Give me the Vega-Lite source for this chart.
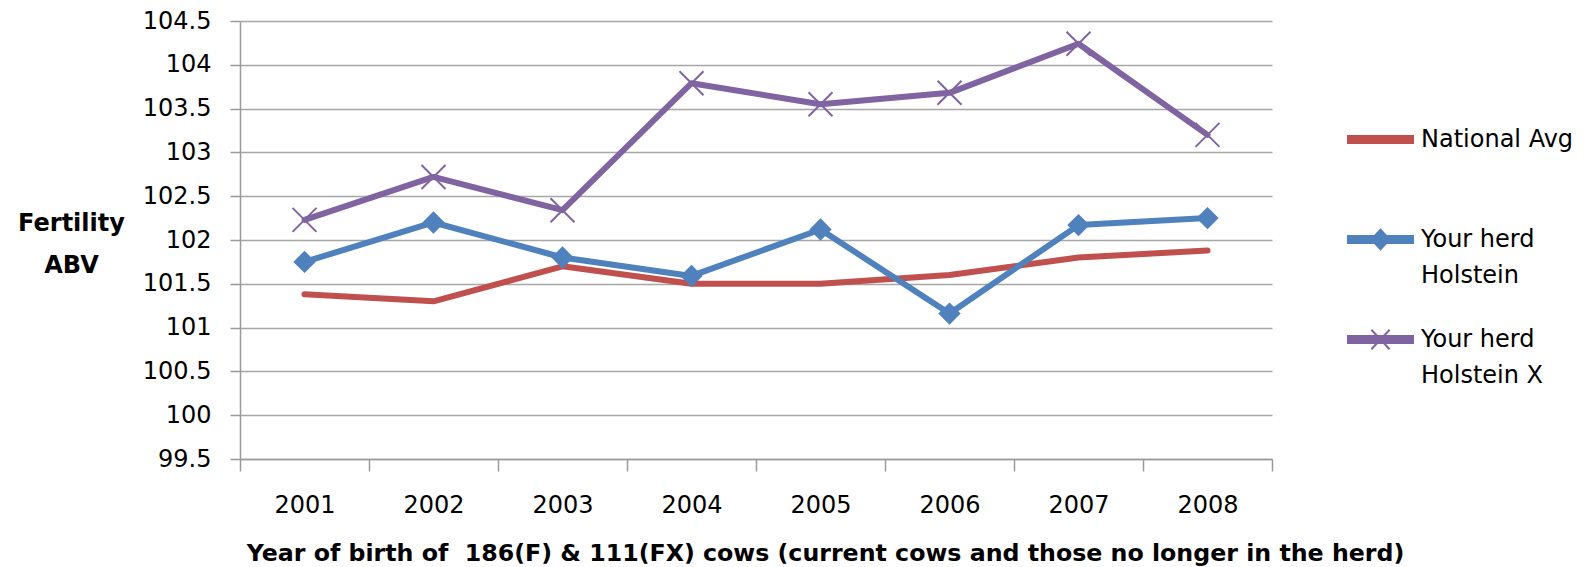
{
  "$schema": "https://vega.github.io/schema/vega-lite/v6.json",
  "width": 1032,
  "height": 438,
  "autosize": {"type": "none"},
  "padding": {"left": 240, "top": 21, "right": 321, "bottom": 108},
  "background": "white",
  "config": {
    "font": "DejaVu Sans",
    "view": {"stroke": null}
  },
  "data": {
    "values": [
      {"year": "2001", "series": "National Avg", "value": 101.38},
      {"year": "2002", "series": "National Avg", "value": 101.3},
      {"year": "2003", "series": "National Avg", "value": 101.7},
      {"year": "2004", "series": "National Avg", "value": 101.5},
      {"year": "2005", "series": "National Avg", "value": 101.5},
      {"year": "2006", "series": "National Avg", "value": 101.6},
      {"year": "2007", "series": "National Avg", "value": 101.8},
      {"year": "2008", "series": "National Avg", "value": 101.88},
      {"year": "2001", "series": "Your herd Holstein", "value": 101.75},
      {"year": "2002", "series": "Your herd Holstein", "value": 102.2},
      {"year": "2003", "series": "Your herd Holstein", "value": 101.8},
      {"year": "2004", "series": "Your herd Holstein", "value": 101.59},
      {"year": "2005", "series": "Your herd Holstein", "value": 102.12},
      {"year": "2006", "series": "Your herd Holstein", "value": 101.16},
      {"year": "2007", "series": "Your herd Holstein", "value": 102.17},
      {"year": "2008", "series": "Your herd Holstein", "value": 102.25},
      {"year": "2001", "series": "Your herd Holstein X", "value": 102.23},
      {"year": "2002", "series": "Your herd Holstein X", "value": 102.72},
      {"year": "2003", "series": "Your herd Holstein X", "value": 102.34},
      {"year": "2004", "series": "Your herd Holstein X", "value": 103.79},
      {"year": "2005", "series": "Your herd Holstein X", "value": 103.55},
      {"year": "2006", "series": "Your herd Holstein X", "value": 103.68},
      {"year": "2007", "series": "Your herd Holstein X", "value": 104.24},
      {"year": "2008", "series": "Your herd Holstein X", "value": 103.2}
    ]
  },
  "encoding": {
    "x": {
      "field": "year",
      "type": "ordinal",
      "scale": {"type": "band", "paddingInner": 0, "paddingOuter": 0},
      "axis": {
        "title": "Year of birth of \u00a0186(F) & 111(FX) cows (current cows and those no longer in the herd)",
        "titleFont": "DejaVu Sans",
        "titleFontWeight": "bold",
        "titleFontSize": 23.7,
        "titleColor": "#000000",
        "titleAlign": "center",
        "titleBaseline": "alphabetic",
        "titleX": 585,
        "titleY": 101,
        "labelAngle": 0,
        "labelFontSize": 24,
        "labelColor": "#000000",
        "labelPadding": 22,
        "tickBand": "extent",
        "tickSize": 12,
        "tickColor": "#9a9a9a",
        "tickWidth": 1.5,
        "domainColor": "#9a9a9a",
        "domainWidth": 1.5,
        "grid": false
      }
    },
    "y": {
      "field": "value",
      "type": "quantitative",
      "scale": {"domain": [99.5, 104.5], "zero": false, "nice": false},
      "axis": {
        "values": [99.5, 100, 100.5, 101, 101.5, 102, 102.5, 103, 103.5, 104, 104.5],
        "format": ".1~f",
        "title": ["Fertility", "ABV"],
        "titleFont": "DejaVu Sans",
        "titleFontWeight": "bold",
        "titleFontSize": 24,
        "titleColor": "#000000",
        "titleAngle": 0,
        "titleAlign": "center",
        "titleBaseline": "middle",
        "titleLineHeight": 42,
        "titleX": -169,
        "titleY": 202,
        "labelFontSize": 24,
        "labelColor": "#000000",
        "labelPadding": 19,
        "tickSize": 10,
        "tickColor": "#9a9a9a",
        "tickWidth": 1.5,
        "domainColor": "#9a9a9a",
        "domainWidth": 1.5,
        "grid": true,
        "gridColor": "#a6a6a6",
        "gridWidth": 1.5
      }
    }
  },
  "layer": [
    {
      "mark": {"type": "line", "strokeWidth": 6, "strokeJoin": "round", "strokeCap": "round"},
      "encoding": {
        "color": {
          "field": "series",
          "type": "nominal",
          "scale": {
            "domain": ["National Avg", "Your herd Holstein", "Your herd Holstein X"],
            "range": ["#C0504D", "#4F81BD", "#8064A2"]
          },
          "legend": {
            "title": null,
            "orient": "none",
            "legendX": 1107,
            "legendY": 85,
            "padding": 0,
            "symbolSize": 4225,
            "symbolType": "stroke",
            "labelFontSize": 24,
            "labelColor": "#000000",
            "labelOffset": 7,
            "labelLimit": 300,
            "rowPadding": 18,
            "labelExpr": "datum.label == 'National Avg' ? ['National Avg', ''] : datum.label == 'Your herd Holstein' ? ['Your herd', 'Holstein'] : ['Your herd', 'Holstein X']",
            "encode": {
              "labels": {
                "update": {
                  "lineHeight": {"value": 36}
                }
              },
              "symbols": {
                "update": {
                  "shape": {"signal": "datum.value == 'National Avg' ? 'M-1,-0.11H1V0.11H-1Z' : datum.value == 'Your herd Holstein' ? 'M-1,-0.11H1V0.11H-1ZM0,-0.3L0.28,0L0,0.3L-0.28,0Z' : 'M-1,-0.11H1V0.11H-1ZM-0.28,-0.3L0.28,0.3M-0.28,0.3L0.28,-0.3'"},
                  "fill": {"signal": "scale('color', datum.value)"},
                  "fillOpacity": {"value": 1},
                  "strokeWidth": {"value": 2}
                }
              }
            }
          }
        }
      }
    },
    {
      "transform": [{"filter": "datum.series == 'Your herd Holstein'"}],
      "mark": {"type": "point", "shape": "diamond", "filled": true, "size": 500, "color": "#4F81BD", "opacity": 1}
    },
    {
      "transform": [{"filter": "datum.series == 'Your herd Holstein X'"}],
      "mark": {"type": "point", "shape": "M-1,-1L1,1M-1,1L1,-1", "filled": false, "size": 576, "color": "#8064A2", "strokeWidth": 2, "opacity": 1}
    }
  ]
}
